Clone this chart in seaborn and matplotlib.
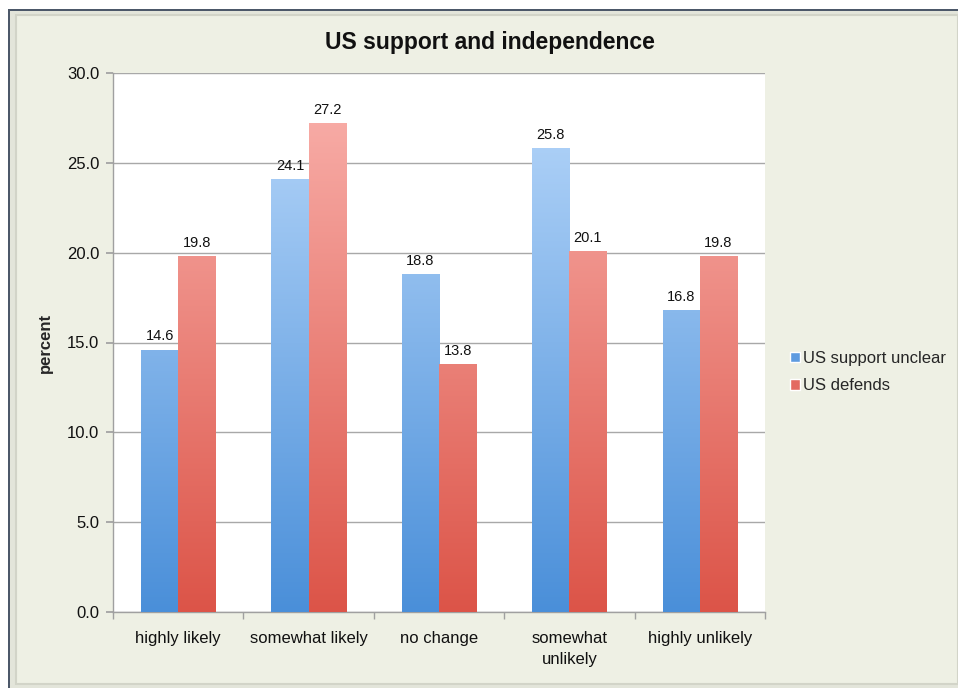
import numpy as np
import pandas as pd
import matplotlib
matplotlib.use("Agg")
import matplotlib.pyplot as plt
from matplotlib.patches import Rectangle
from matplotlib.colors import LinearSegmentedColormap
import seaborn as sns

categories = ["highly likely", "somewhat likely", "no change", "somewhat\nunlikely", "highly unlikely"]
series_names = ["US support unclear", "US defends"]
unclear = [14.6, 24.1, 18.8, 25.8, 16.8]
defends = [19.8, 27.2, 13.8, 20.1, 19.8]
yticks = [0, 5, 10, 15, 20, 25, 30]

df = pd.DataFrame({
    "category": categories * 2,
    "series": [series_names[0]] * 5 + [series_names[1]] * 5,
    "value": unclear + defends,
})

sns.set_theme(style="white")
plt.rcParams["font.family"] = ["Liberation Sans", "DejaVu Sans"]

W, H = 958, 688
BG = "#eef0e4"
fig = plt.figure(figsize=(W / 100, H / 100), dpi=100, facecolor="white")

def fr(x0, y0, x1, y1, **kw):
    # rectangle from pixel coords (top-left origin)
    fig.patches.append(Rectangle((x0 / W, 1 - y1 / H), (x1 - x0) / W, (y1 - y0) / H,
                                 transform=fig.transFigure, **kw))

fr(8, 9, W, H, facecolor="#e3e5da", edgecolor="none", zorder=-3)
fr(8, 9, W, 11, facecolor="#4c5869", edgecolor="none", zorder=-2)
fr(8, 9, 10, H, facecolor="#4c5869", edgecolor="none", zorder=-2)
fr(16, 15, W, 684, facecolor=BG, edgecolor="#d2d4c8", linewidth=1.5, zorder=-1)

ax = fig.add_axes([113 / W, 1 - 612 / H, (765 - 113) / W, (612 - 73) / H])
ax.set_facecolor("white")

palette = {series_names[0]: "#7fb2ea", series_names[1]: "#ea8079"}
sns.barplot(data=df, x="category", y="value", hue="series", palette=palette,
            ax=ax, width=0.57, saturation=1, legend=True, order=categories,
            hue_order=series_names)

grads = {
    series_names[0]: LinearSegmentedColormap.from_list("b", ["#4a8fd9", "#bad9fb"]),
    series_names[1]: LinearSegmentedColormap.from_list("r", ["#dc5448", "#fab3ae"]),
}
grad = np.linspace(0, 1, 256).reshape(-1, 1)
for cont, name in zip(ax.containers, series_names):
    for bar in cont:
        x0, y0 = bar.get_x(), bar.get_y()
        w, h = bar.get_width(), bar.get_height()
        bar.set_edgecolor("none")
        im = ax.imshow(grad, cmap=grads[name], origin="lower", aspect="auto",
                       extent=[x0, x0 + w, 0, 30], zorder=3)
        im.set_clip_path(bar)
        bar.set_alpha(0)
        ax.text(x0 + w / 2, y0 + h + 0.35, f"{h:.1f}", ha="center", va="bottom",
                fontsize=10.5, color="#111111", zorder=4)

ax.set_xlim(-0.5, 4.5)
ax.set_ylim(0, 30)
ax.set_yticks(yticks)
ax.set_yticklabels([f"{v:.1f}" for v in yticks], fontsize=12, color="#111111")
ax.yaxis.grid(True, color="#a8a8a8", linewidth=1)
ax.set_axisbelow(True)
ax.tick_params(axis="y", length=5, color="#a0a0a0", left=True, pad=5)
ax.set_xticks(range(5))
ax.set_xticklabels(categories, fontsize=12, color="#111111", linespacing=1.5)
ax.tick_params(axis="x", length=0, pad=14)
ax.set_xticks(np.arange(-0.5, 5, 1), minor=True)
ax.tick_params(axis="x", which="minor", length=5, color="#a0a0a0", bottom=True)
for s in ["top", "right"]:
    ax.spines[s].set_visible(False)
for s in ["left", "bottom"]:
    ax.spines[s].set_color("#a0a0a0")
    ax.spines[s].set_linewidth(1)
ax.set_xlabel("")
ax.set_ylabel("percent", fontsize=12, fontweight="bold", labelpad=10)
fig.text(490 / W, 1 - 42 / H, "US support and independence", fontsize=16.5,
         fontweight="bold", ha="center", va="center", color="#111111")

handles, labels = ax.get_legend_handles_labels()
leg = ax.legend(handles, labels, loc="center left", bbox_to_anchor=(1.015, 0.445),
                frameon=False, fontsize=12, handlelength=0.6, handleheight=0.6,
                handletextpad=0.2, labelspacing=0.75)
leg.get_patches()[0].set_facecolor("#5e9be0")
leg.get_patches()[1].set_facecolor("#e36a62")
for p in leg.get_patches():
    p.set_alpha(1)

fig.savefig("out.png", dpi=100, facecolor=fig.get_facecolor())
